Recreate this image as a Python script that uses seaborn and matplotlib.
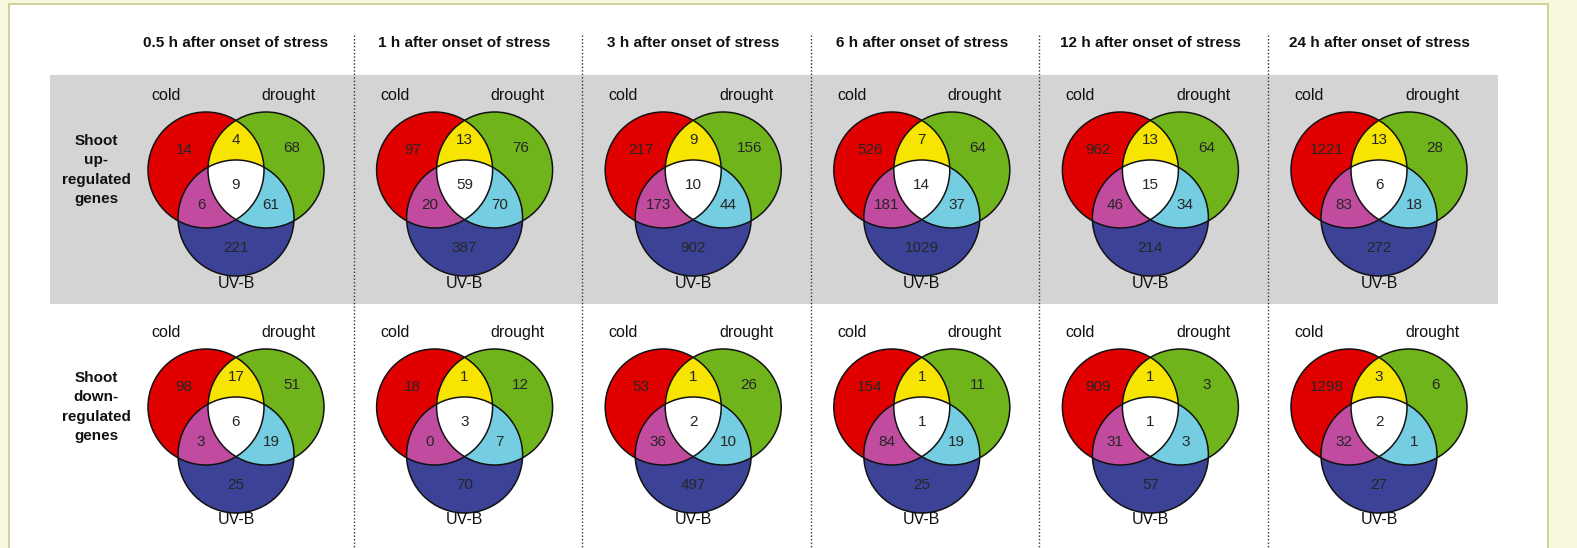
import numpy as np
import matplotlib
matplotlib.use("Agg")
import matplotlib.pyplot as plt
from matplotlib.patches import Circle, Rectangle, Polygon
import seaborn as sns

# time points (column titles)
titles = ["0.5 h after onset of stress", "1 h after onset of stress",
          "3 h after onset of stress", "6 h after onset of stress",
          "12 h after onset of stress", "24 h after onset of stress"]
row_labels = ["Shoot\nup-\nregulated\ngenes", "Shoot\ndown-\nregulated\ngenes"]
set_names = ["cold", "drought", "UV-B"]

# region counts per time point:
# cold only, cold&drought, drought only, all three, cold&UV-B, drought&UV-B, UV-B only
up_cold = [14, 97, 217, 526, 962, 1221]
up_cold_drought = [4, 13, 9, 7, 13, 13]
up_drought = [68, 76, 156, 64, 64, 28]
up_all = [9, 59, 10, 14, 15, 6]
up_cold_uvb = [6, 20, 173, 181, 46, 83]
up_drought_uvb = [61, 70, 44, 37, 34, 18]
up_uvb = [221, 387, 902, 1029, 214, 272]

down_cold = [98, 18, 53, 154, 909, 1298]
down_cold_drought = [17, 1, 1, 1, 1, 3]
down_drought = [51, 12, 26, 11, 3, 6]
down_all = [6, 3, 2, 1, 1, 2]
down_cold_uvb = [3, 0, 36, 84, 31, 32]
down_drought_uvb = [19, 7, 10, 19, 3, 1]
down_uvb = [25, 70, 497, 25, 57, 27]

rows = [
    [up_cold, up_cold_drought, up_drought, up_all, up_cold_uvb, up_drought_uvb, up_uvb],
    [down_cold, down_cold_drought, down_drought, down_all, down_cold_uvb, down_drought_uvb, down_uvb],
]

sns.set_style("white")
plt.rcParams['font.family'] = ['Liberation Sans', 'DejaVu Sans']

pal = sns.color_palette(["#e10000", "#70b41c", "#3c4296", "#f7e400",
                         "#c14b9f", "#74cde0", "#ffffff"])
c_red, c_green, c_blue, c_yellow, c_magenta, c_cyan, c_white = pal

W, H = 1577, 548
fig = plt.figure(figsize=(W / 100, H / 100), dpi=100, facecolor="#f8f8df")
ax = fig.add_axes([0, 0, 1, 1])
ax.set_xlim(0, W)
ax.set_ylim(H, 0)
ax.set_aspect("equal")
ax.axis("off")

# page + grey band
ax.add_patch(Rectangle((9, 4), 1539, 560, facecolor="white", edgecolor="#c8c88c", lw=1.2, zorder=0))
ax.add_patch(Rectangle((50, 75), 1448, 229, facecolor="#d4d4d4", edgecolor="none", zorder=1))

r = 58
dx, dy = 30, 48
col_x0, col_step = 236, 228.6
row_y = [170, 407]

# label offsets relative to venn centre
num_off = [(-52, -20), (0, -30), (56, -22), (0, 15), (-35, 35), (35, 35), (0, 78)]


def inside(px, py, c):
    return (px - c[0]) ** 2 + (py - c[1]) ** 2 <= r * r * 1.0001


def triple_polygon(centres):
    pts = []
    t = np.linspace(0, 2 * np.pi, 2000)
    for c in centres:
        xs = c[0] + r * np.cos(t)
        ys = c[1] + r * np.sin(t)
        for x, y in zip(xs, ys):
            if all(inside(x, y, o) for o in centres):
                pts.append((x, y))
    pts = np.array(pts)
    m = pts.mean(axis=0)
    ang = np.arctan2(pts[:, 1] - m[1], pts[:, 0] - m[0])
    return pts[np.argsort(ang)]


def venn(cx, cy, counts):
    cr = (cx - dx, cy)
    cg = (cx + dx, cy)
    cb = (cx, cy + dy)
    red = Circle(cr, r, facecolor=c_red, edgecolor="none", zorder=2)
    green = Circle(cg, r, facecolor=c_green, edgecolor="none", zorder=2)
    blue = Circle(cb, r, facecolor=c_blue, edgecolor="none", zorder=2)
    for p in (red, green, blue):
        ax.add_patch(p)
    # pairwise overlaps
    yel = Circle(cg, r, facecolor=c_yellow, edgecolor="none", zorder=3)
    ax.add_patch(yel)
    yel.set_clip_path(red)
    mag = Circle(cb, r, facecolor=c_magenta, edgecolor="none", zorder=3)
    ax.add_patch(mag)
    mag.set_clip_path(red)
    cya = Circle(cb, r, facecolor=c_cyan, edgecolor="none", zorder=3)
    ax.add_patch(cya)
    cya.set_clip_path(green)
    ax.add_patch(Polygon(triple_polygon([cr, cg, cb]), closed=True,
                         facecolor=c_white, edgecolor="none", zorder=4))
    for c in (cr, cg, cb):
        ax.add_patch(Circle(c, r, facecolor="none", edgecolor="#111111", lw=1.1, zorder=5))
    for (ox, oy), v in zip(num_off, counts):
        ax.text(cx + ox, cy + oy, str(v), ha="center", va="center",
                fontsize=11, color="#262626", zorder=6)
    ax.text(cx - 70, cy - 70, set_names[0], ha="center", va="baseline", fontsize=11.5, color="#111111")
    ax.text(cx + 53, cy - 70, set_names[1], ha="center", va="baseline", fontsize=11.5, color="#111111")
    ax.text(cx, cy + 113, set_names[2], ha="center", va="center", fontsize=11.5, color="#111111")


for j, title in enumerate(titles):
    cx = col_x0 + j * col_step
    ax.text(cx, 43, title, ha="center", va="center", fontsize=11,
            fontweight="bold", color="#111111")
    if j < len(titles) - 1:
        ax.plot([cx + 117.5, cx + 117.5], [35, H], ls=(0, (1, 1.5)), color="#333333", lw=1.0, zorder=1)
    for i, data in enumerate(rows):
        venn(cx, row_y[i], [s[j] for s in data])

for i, lab in enumerate(row_labels):
    ax.text(96, row_y[i], lab, ha="center", va="center", fontsize=11,
            fontweight="bold", color="#111111", linespacing=1.5)

fig.savefig("out.png", dpi=100, facecolor=fig.get_facecolor())
